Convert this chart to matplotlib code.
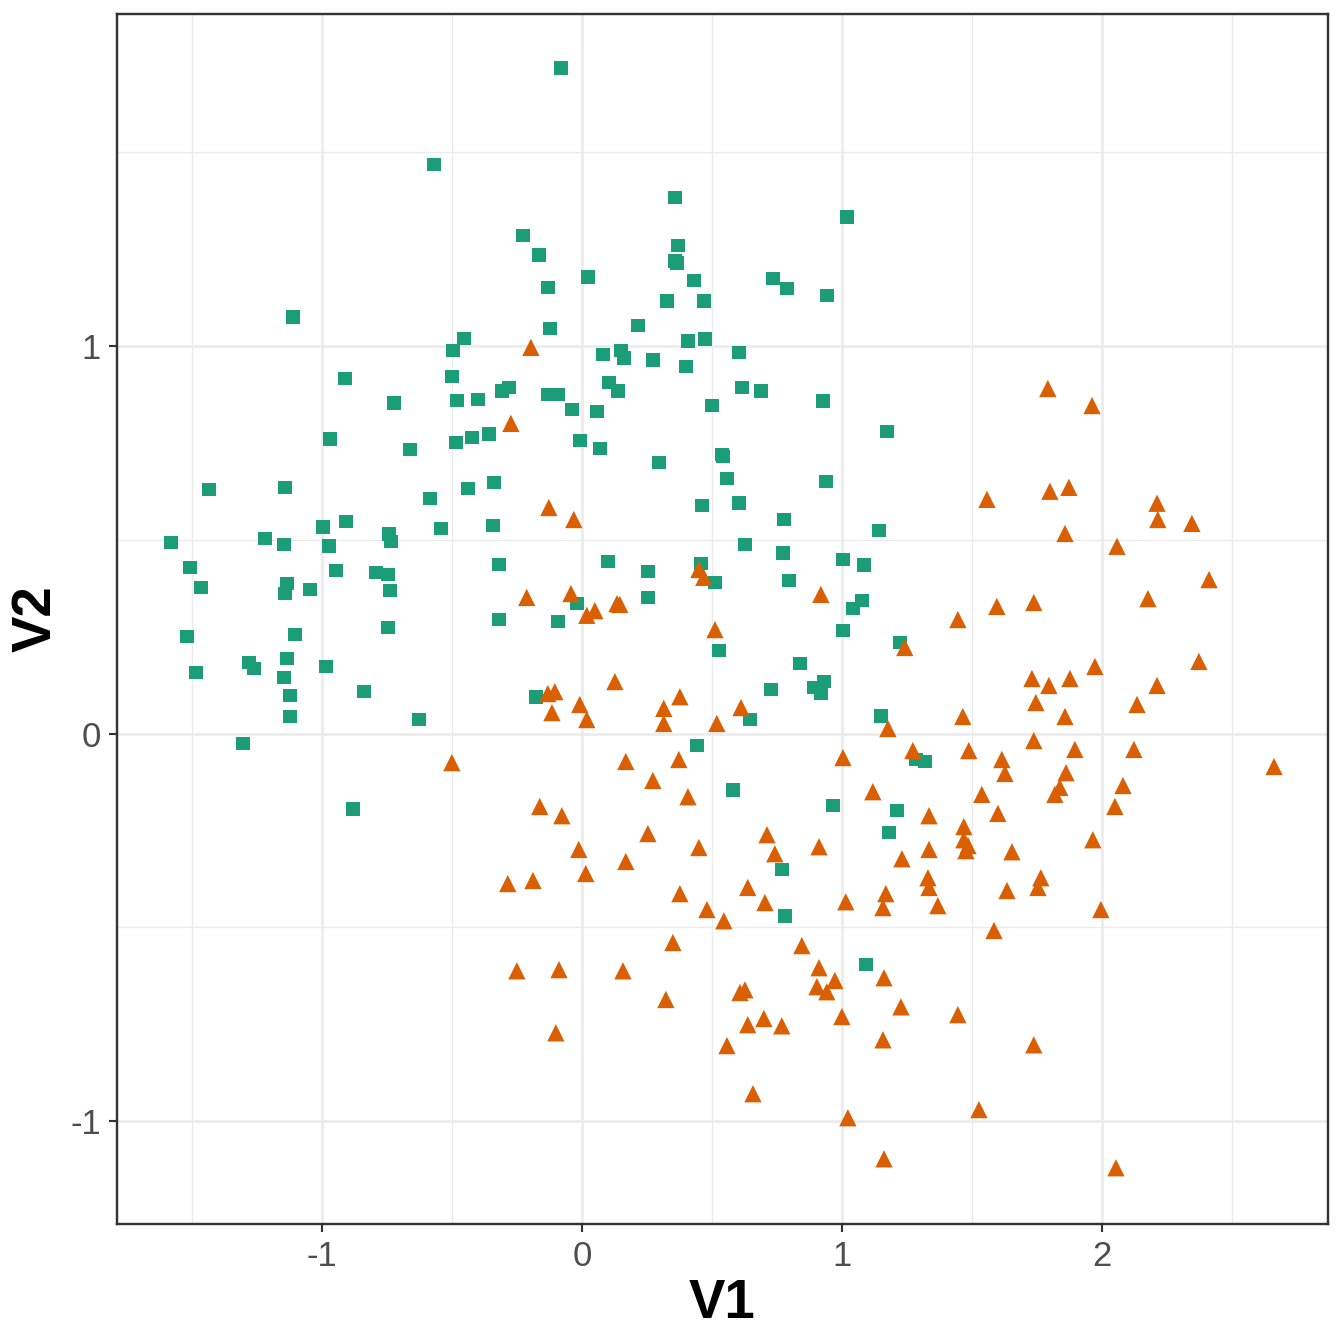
import matplotlib
matplotlib.use("Agg")
import matplotlib.pyplot as plt
from matplotlib.ticker import MultipleLocator

# group 1 (green squares)
v1_sq = [-0.081, -0.569, 0.358, 1.019, -0.227, 0.369, -0.165, 0.365, 0.358, 0.023,
         0.735, 0.431, -0.131, 0.788, 0.327, 0.469, 0.942, -1.112, 0.215, -0.123,
         -0.454, 0.408, 0.473, -0.496, 0.081, 0.150, 0.162, 0.604, 0.273, 0.400,
         -0.912, -0.500, 0.104, -0.281, 0.615, 0.138, 0.688, -0.308, -0.131, -0.092,
         -0.481, -0.400, -0.723, 0.927, 0.500, -0.038, 0.058, -0.969, -0.358, -0.423,
         -0.485, -0.008, 1.173, -0.662, 0.069, 0.538, 0.542, 0.296, 0.558, -1.435,
         -1.142, -0.438, -0.338, 0.938, -0.585, 0.604, 0.462, 0.777, -0.908, -0.996,
         -0.542, -0.342, 1.142, -1.219, -1.581, -0.742, -0.735, -1.146, -0.973, 0.627,
         0.773, 0.100, 1.004, -1.508, -0.319, 1.085, -0.946, -0.792, -0.746, 0.254,
         0.458, -1.465, -1.135, -1.142, -1.046, -0.738, 0.796, 0.512, -0.019, 0.254,
         1.077, 1.042, -0.092, -0.319, -0.746, -1.519, -1.104, 1.004, 1.223, 0.527,
         -1.281, -1.262, -1.135, -0.985, -1.485, -1.146, 0.838, -1.123, -0.838, -0.177,
         0.727, 0.892, 0.931, 0.919, -1.123, -0.627, 0.646, 1.150, -1.304, 1.285,
         1.319, 0.442, -0.881, 0.581, 0.965, 1.212, 1.181, 0.769, 0.781, 1.092]
v2_sq = [1.716, 1.468, 1.383, 1.332, 1.285, 1.259, 1.234, 1.213, 1.219, 1.177,
         1.174, 1.169, 1.151, 1.148, 1.115, 1.115, 1.130, 1.074, 1.053, 1.045,
         1.019, 1.012, 1.017, 0.988, 0.978, 0.988, 0.968, 0.983, 0.963, 0.947,
         0.916, 0.921, 0.906, 0.893, 0.893, 0.883, 0.883, 0.883, 0.875, 0.875,
         0.859, 0.862, 0.852, 0.857, 0.846, 0.836, 0.831, 0.759, 0.772, 0.764,
         0.751, 0.756, 0.779, 0.733, 0.735, 0.720, 0.715, 0.699, 0.658, 0.630,
         0.635, 0.632, 0.648, 0.650, 0.606, 0.594, 0.588, 0.552, 0.547, 0.532,
         0.529, 0.537, 0.524, 0.503, 0.493, 0.514, 0.495, 0.488, 0.483, 0.488,
         0.465, 0.444, 0.449, 0.428, 0.436, 0.434, 0.421, 0.415, 0.410, 0.418,
         0.439, 0.377, 0.387, 0.361, 0.372, 0.369, 0.395, 0.390, 0.335, 0.351,
         0.343, 0.323, 0.289, 0.294, 0.274, 0.250, 0.255, 0.266, 0.235, 0.214,
         0.183, 0.168, 0.194, 0.173, 0.157, 0.145, 0.181, 0.098, 0.108, 0.095,
         0.114, 0.119, 0.134, 0.103, 0.044, 0.036, 0.036, 0.046, -0.026, -0.067,
         -0.072, -0.031, -0.194, -0.145, -0.186, -0.199, -0.255, -0.351, -0.470, -0.596]

# group 2 (orange triangles)
v1_tri = [-0.196, -0.273, -0.127, -0.031, 0.450, 0.469, 0.919, -0.212, -0.042, 0.135,
          0.146, 0.050, 0.019, 0.512, 1.242, 0.127, -0.131, -0.104, -0.008, -0.115,
          0.019, 0.377, 0.315, 0.315, 0.612, 0.519, 1.177, 0.169, 0.373, 0.273,
          0.408, 1.004, 1.273, -0.162, -0.077, 1.119, 0.254, 0.450, 0.712, 0.742,
          0.912, -0.012, 0.169, -0.188, 0.015, 1.231, 0.638, 0.377, 0.704, 1.015,
          1.169, 1.158, 0.481, 0.546, -0.500, -0.285, 1.792, 1.962, 1.558, 1.800,
          1.873, 2.212, 2.215, 2.346, 1.858, 2.058, 2.412, 2.177, 1.596, 1.738,
          1.446, 1.973, 2.373, 1.731, 1.796, 1.877, 2.212, 1.746, 2.135, 1.465,
          1.858, 1.738, 1.488, 1.896, 2.123, 2.662, 1.615, 1.627, 1.862, 2.081,
          1.838, 1.819, 1.538, 2.050, 1.600, 1.335, 1.469, 1.469, 1.485, 1.477,
          1.335, 1.965, 1.654, 1.331, 1.335, 1.765, 1.754, 1.635, 1.369, 1.996,
          0.350, 0.846, -0.250, -0.088, 0.158, 0.912, 0.973, 1.162, 0.904, 0.942,
          0.627, 0.608, 1.227, 0.323, 1.000, 0.700, 0.638, 0.769, -0.100, 1.158,
          0.558, 0.658, 1.023, 1.162, 1.585, 1.446, 1.738, 1.527, 2.054]
v2_tri = [0.996, 0.800, 0.583, 0.552, 0.423, 0.403, 0.359, 0.351, 0.361, 0.335,
          0.333, 0.317, 0.305, 0.268, 0.222, 0.134, 0.103, 0.108, 0.075, 0.054,
          0.036, 0.095, 0.065, 0.026, 0.067, 0.026, 0.013, -0.072, -0.067, -0.121,
          -0.163, -0.062, -0.044, -0.188, -0.212, -0.150, -0.258, -0.294, -0.261, -0.310,
          -0.292, -0.299, -0.330, -0.379, -0.361, -0.323, -0.397, -0.413, -0.436, -0.434,
          -0.413, -0.449, -0.454, -0.483, -0.075, -0.387, 0.890, 0.846, 0.604, 0.625,
          0.635, 0.594, 0.552, 0.542, 0.516, 0.483, 0.397, 0.348, 0.328, 0.338,
          0.294, 0.173, 0.186, 0.142, 0.124, 0.142, 0.124, 0.080, 0.075, 0.044,
          0.044, -0.018, -0.044, -0.041, -0.041, -0.085, -0.067, -0.103, -0.101, -0.134,
          -0.139, -0.157, -0.157, -0.188, -0.206, -0.212, -0.240, -0.274, -0.289, -0.302,
          -0.299, -0.274, -0.305, -0.372, -0.397, -0.372, -0.397, -0.405, -0.444, -0.454,
          -0.539, -0.547, -0.612, -0.609, -0.612, -0.604, -0.637, -0.630, -0.653, -0.666,
          -0.661, -0.668, -0.705, -0.686, -0.730, -0.735, -0.751, -0.754, -0.772, -0.790,
          -0.805, -0.929, -0.991, -1.097, -0.508, -0.725, -0.803, -0.970, -1.120]

plt.rcParams['font.family'] = ['Liberation Sans', 'DejaVu Sans']

fig = plt.figure(figsize=(7, 7), dpi=192)
ax = fig.add_axes([0.087, 0.0893, 0.901, 0.9], zorder=1)

ax.scatter(v1_sq, v2_sq, marker='s', s=26, color='#1B9E77', edgecolors='none', zorder=3)
ax.scatter(v1_tri, v2_tri, marker='^', s=42, color='#D95F02', edgecolors='none', zorder=3)

ax.set_xlim(-1.788, 2.869)
ax.set_ylim(-1.265, 1.855)

ax.xaxis.set_major_locator(MultipleLocator(1))
ax.yaxis.set_major_locator(MultipleLocator(1))
ax.xaxis.set_minor_locator(MultipleLocator(0.5))
ax.yaxis.set_minor_locator(MultipleLocator(0.5))
ax.grid(which='major', color='#EBEBEB', linewidth=1.0, zorder=0)
ax.grid(which='minor', color='#EBEBEB', linewidth=0.5, zorder=0)
ax.set_axisbelow(True)

ax.tick_params(which='major', length=3, width=0.8, color='#333333',
               labelsize=13, labelcolor='#4D4D4D', pad=3)
ax.tick_params(which='minor', length=0)
ax.set_xticks([-1, 0, 1, 2])
ax.set_xticklabels(['-1', '0', '1', '2'])
ax.set_yticks([-1, 0, 1])
ax.set_yticklabels(['-1', '0', '1'])

for s in ax.spines.values():
    s.set_color('#333333')
    s.set_linewidth(0.9)

ax.set_xlabel('V1', fontsize=20.5, fontweight='bold', labelpad=2)
ax.set_ylabel('V2', fontsize=20.5, fontweight='bold', labelpad=3)

fig.savefig('out.png', dpi=192, facecolor='white')
